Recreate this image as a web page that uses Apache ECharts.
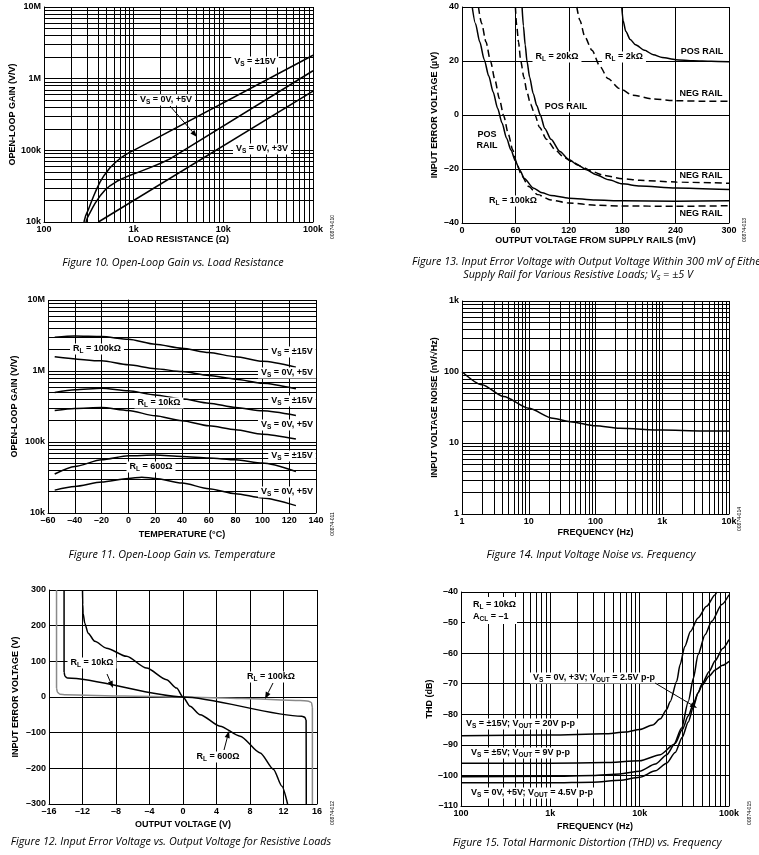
<!DOCTYPE html>
<html><head><meta charset="utf-8">
<script src="https://cdn.jsdelivr.net/npm/echarts@6/dist/echarts.min.js"></script>
<style>html,body{margin:0;padding:0;background:#fff}#c{width:759px;height:855px}</style>
</head><body><div id="c"></div>
<script>
// ---------------- DATA ----------------
// Figure 10: open-loop gain vs load resistance  [ohm, V/V]
const fig10XTicks = ['100','1k','10k','100k'];
const fig10YTicks = ['10k','100k','1M','10M'];
const fig10Vs15 = [[279,1e4],[290,12000],[300,13300],[312,14800],[330,17800],[355,22500],[385,28500],[421,36000],[470,45000],[544,57000],[620,67000],[705,77000],[800,86000],[900,93500],[1000,100000],[100000,2120000]];
const fig10Vs5  = [[294,1e4],[305,11500],[326,13500],[350,16000],[371,18200],[421,23000],[480,28000],[544,32000],[650,37000],[767,41000],[900,44500],[1080,48500],[1500,57000],[2000,66000],[2540,76000],[100000,1290000]];
const fig10Vs3  = [[404,1e4],[100000,670000]];

// Figure 13: input error voltage vs output voltage from rails [mV, uV]
const fig13XTicks = ['0','60','120','180','240','300'];
const fig13YTicks = ['–40','–20','0','20','40'];
const fig13R100kPos = [[11.5,40],[15,34],[20,27],[25,20.5],[30,14.5],[35,8.5],[40,2.5],[45,-3],[50,-8.5],[55,-13],[60,-17],[65,-20.5],[70,-23.5],[80,-27],[90,-28.8],[100,-29.8],[120,-30.8],[150,-31.5],[180,-31.8],[240,-31.9],[300,-31.8]];
const fig13R100kNeg = [[18.5,40],[22,34],[27,27],[32,20],[37,13],[42,6],[47,-0.5],[52,-7],[57,-13],[62,-18.5],[67,-22.5],[75,-26.5],[85,-29.5],[100,-31.5],[120,-32.6],[150,-33.4],[180,-33.7],[240,-33.8],[300,-33.6]];
const fig13R20kPos = [[67.5,40],[69,33],[71,26],[73,20],[76,14],[80,8],[84,3.5],[88,0],[93,-5],[100,-9],[110,-13.5],[120,-16.5],[130,-18.5],[140,-20.3],[150,-22],[165,-24],[180,-25.5],[200,-26.3],[240,-27],[300,-27.6]];
const fig13R20kNeg = [[60,40],[61.5,33],[63.5,27],[66,20],[69.5,14],[73,8.5],[77,4],[82,0],[87,-4.5],[95,-9],[105,-13],[115,-15.8],[125,-17.6],[135,-19.2],[145,-20.8],[160,-22.4],[180,-23.6],[200,-24.2],[240,-24.8],[300,-25.3]];
const fig13R2kPos = [[179.5,40],[181,35],[184,31],[189,28],[195,26],[205,24],[215,22.3],[225,21.3],[240,20.5],[260,20.1],[280,19.9],[300,19.7]];
const fig13R2kNeg = [[129,40],[132.5,35],[138,29],[146,24],[155,18],[164,13.5],[177,9.8],[192,7.3],[215,5.9],[240,5.3],[270,5.1],[300,5.1]];

// Figure 11: open-loop gain vs temperature [degC, V/V]
const fig11XTicks = ['–60','–40','–20','0','20','40','60','80','100','120','140'];
const fig11YTicks = ['10k','100k','1M','10M'];
const fig11R100kVs15 = [[-55,2.98e6],[-40,3.1e6],[-20,3.05e6],[0,2.8e6],[20,2.38e6],[40,2.09e6],[60,1.82e6],[80,1.59e6],[100,1.37e6],[125,1.13e6]];
const fig11R100kVs5  = [[-55,1.59e6],[-20,1.39e6],[0,1.22e6],[20,1.08e6],[40,0.98e6],[60,863e3],[80,767e3],[100,674e3],[125,561e3]];
const fig11R10kVs15  = [[-55,498e3],[-40,543e3],[-20,573e3],[0,525e3],[20,461e3],[40,405e3],[60,352e3],[80,306e3],[100,275e3],[125,236e3]];
const fig11R10kVs5   = [[-55,278e3],[-40,297e3],[-20,306e3],[0,278e3],[20,234e3],[40,199e3],[60,169e3],[80,149e3],[100,129e3],[125,110e3]];
const fig11R600Vs15  = [[-55,35.4e3],[-40,45.3e3],[-20,56.2e3],[0,64e3],[20,65.4e3],[40,62.7e3],[60,59.4e3],[80,56.2e3],[100,50.5e3],[125,38.5e3]];
const fig11R600Vs5   = [[-55,21e3],[-40,23.7e3],[-20,27.3e3],[0,30.7e3],[10,31.8e3],[20,30.7e3],[40,26.4e3],[60,22e3],[80,18.7e3],[100,16.3e3],[125,12.7e3]];

// Figure 14: input voltage noise vs frequency [Hz, nV/rtHz]
const fig14XTicks = ['1','10','100','1k','10k'];
const fig14YTicks = ['1','10','100','1k'];
const fig14Noise = [[1,101],[2,66],[4.2,45],[10,30.8],[23,22.3],[42,20],[100,17.5],[230,16.1],[1000,15.2],[4000,14.8],[10000,14.8]];

// Figure 12: input error voltage vs output voltage [V, V]
const fig12XTicks = ['–16','–12','–8','–4','0','4','8','12','16'];
const fig12YTicks = ['–300','–200','–100','0','100','200','300'];
const fig12R100k = [[-15.1,300],[-15.1,25],[-15.0,13],[-14.7,8],[-14,6],[-7,3],[0,0],[7,-4],[14,-9.5],[15.0,-12],[15.35,-16],[15.45,-30],[15.45,-300]];
const fig12R10k  = [[-14.2,300],[-14.2,70],[-14.1,58],[-13.8,53],[0,0],[14.2,-54],[14.55,-57],[14.7,-65],[14.72,-300]];
const fig12R600  = [[-12.0,300],[-11.97,260],[-11.93,235],[-11.73,207],[-11.33,179],[-10.53,156],[-9.14,137],[-6.74,114],[-4.35,81],[-1.96,48.5],[-0.76,25],[0,0],[0.84,-26],[2.04,-49.5],[4.43,-82],[6.82,-110],[9.22,-157],[10.81,-203],[11.81,-250],[12.49,-300]];

// Figure 15: THD vs frequency [Hz, dB]
const fig15XTicks = ['100','1k','10k','100k'];
const fig15YTicks = ['–110','–100','–90','–80','–70','–60','–50','–40'];
const fig15Vs15 = [[100,-87],[1000,-86.8],[4000,-86.4],[7000,-85.8],[10000,-85],[14000,-83.5],[17000,-81.5],[20000,-78.5],[22000,-75.8],[26000,-69.2],[28300,-63.8],[32000,-57.8],[37000,-52.9],[45000,-48.5],[56000,-44.7],[70000,-40.9],[73000,-40]];
const fig15Vs5  = [[100,-96],[1000,-96],[4000,-95.8],[10000,-95.2],[17000,-93.2],[24000,-90],[29500,-84.5],[35000,-75.8],[40000,-68.1],[45000,-60.5],[54000,-54],[64000,-49.6],[83000,-44.1],[100000,-40.9]];
const fig15Vs3V = [[100,-100.4],[1000,-100.3],[3000,-100],[6000,-99.5],[10000,-98.6],[15000,-96.3],[20000,-93.3],[25000,-89.5],[30000,-85],[35000,-80.5],[40000,-76.5],[45000,-73],[50000,-70.5],[60000,-67.5],[70000,-65.5],[85000,-64],[100000,-62.7]];
const fig15Vs5V = [[100,-102.4],[1000,-102.4],[3000,-102.2],[6000,-101.6],[10000,-100.6],[15000,-98.5],[20000,-96],[25000,-92.5],[30000,-87.5],[35000,-82.5],[40000,-77.5],[45000,-73],[50000,-70],[60000,-66],[70000,-62.5],[85000,-58.5],[100000,-55.6]];

// ---------------- HELPERS ----------------
const FONT = '"Liberation Sans", Arial, sans-serif';
const CAP_FONT = '"Open Sans", "Liberation Sans", sans-serif';
const minorMult = [2,3,4,5,6,7,8,9];
function minors(lo, hi){ const r=[]; for(let d=lo; d<hi; d*=10) minorMult.forEach(m=>r.push(d*m)); return r; }

const axLabel = {color:'#000', fontSize:9, fontWeight:'bold', fontFamily:FONT, margin:3, showMinLabel:true, showMaxLabel:true};
const axName = {color:'#000', fontSize:9, fontWeight:'bold', fontFamily:FONT};
const split = {show:true, lineStyle:{color:'#000', width:1}};
function logAxis(gi, min, max, ticks, name, gap, isY){
  const lo = Math.round(Math.log10(min));
  return {type:'log', logBase:10, gridIndex:gi, min, max,
    name, nameLocation:'middle', nameGap:gap, nameTextStyle:axName, nameRotate:isY?90:0,
    axisLine:{show:true, lineStyle:{color:'#000', width:1}}, axisTick:{show:false},
    axisLabel:Object.assign({}, axLabel, {formatter:v=>ticks[Math.round(Math.log10(v))-lo]}),
    splitLine:split};
}
function valAxis(gi, min, max, interval, ticks, name, gap, isY){
  return {type:'value', gridIndex:gi, min, max, interval,
    name, nameLocation:'middle', nameGap:gap, nameTextStyle:axName, nameRotate:isY?90:0,
    axisLine:{show:true, onZero:false, lineStyle:{color:'#000', width:1}}, axisTick:{show:false},
    axisLabel:Object.assign({}, axLabel, {formatter:v=>ticks[Math.round((v-min)/interval)]}),
    splitLine:split};
}
function curve(gi, data, opt){
  opt = opt || {};
  return {type:'line', xAxisIndex:gi, yAxisIndex:gi, data, symbol:'none', showSymbol:false,
    smooth:opt.smooth===undefined?0.25:opt.smooth, smoothMonotone:'x', z:5, silent:true, animation:false,
    lineStyle:{color:opt.color||'#000', width:opt.width||1.5, type:opt.dash||'solid'}};
}
function gridLines(gi, xs, ys){
  return {type:'line', xAxisIndex:gi, yAxisIndex:gi, data:[], z:1, silent:true, animation:false,
    markLine:{silent:true, symbol:['none','none'], label:{show:false}, animation:false,
      lineStyle:{color:'#000', width:1, type:'solid'}, emphasis:{disabled:true},
      data:[...xs.map(v=>({xAxis:v})), ...ys.map(v=>({yAxis:v}))]}};
}
function rt(s, cls){
  return s.split(/(_\{[^}]*\})/).filter(Boolean).map(p=>p.startsWith('_{')?'{s|'+p.slice(2,-1)+'}':'{'+cls+'|'+p+'}').join('');
}
const richBold = {
  n:{fontSize:9, fontWeight:'bold', fontFamily:FONT, lineHeight:11, fill:'#000', color:'#000'},
  s:{fontSize:6.5, fontWeight:'bold', fontFamily:FONT, lineHeight:5, verticalAlign:'bottom', fill:'#000', color:'#000'}
};
function lbl(s, x, y, o){
  o = o || {};
  return {type:'text', x, y, z:100, silent:true, style:{text:rt(s,'n'), align:o.align||'center', verticalAlign:'middle',
    backgroundColor:o.bg===false?'transparent':'#fff', padding:o.pad||[0,3,0,3], rich:richBold}};
}
const richCap = {
  c:{fontSize:10.8, fontStyle:'italic', fontFamily:CAP_FONT, lineHeight:13, fill:'#000', color:'#000'},
  s:{fontSize:7.5, fontStyle:'italic', fontFamily:CAP_FONT, lineHeight:9, verticalAlign:'bottom', fill:'#000', color:'#000'}
};
function cap(s, x, y, align){
  return {type:'text', x, y, z:100, silent:true, style:{text:rt(s,'c'), align:align||'center', verticalAlign:'middle', rich:richCap}};
}
function code(s, x, y){
  return {type:'text', x, y, rotation:Math.PI/2, z:100, silent:true, style:{text:s, align:'center', verticalAlign:'middle', font:'5px '+FONT, fill:'#000'}};
}
function arrow(x1,y1,x2,y2){
  const a=Math.atan2(y2-y1,x2-x1), L=7, W=2.6;
  const bx=x2-L*Math.cos(a), by=y2-L*Math.sin(a);
  return [
    {type:'line', z:100, silent:true, shape:{x1,y1,x2:bx,y2:by}, style:{stroke:'#000', lineWidth:1}},
    {type:'polygon', z:100, silent:true, shape:{points:[[x2,y2],[bx+W*Math.sin(a),by-W*Math.cos(a)],[bx-W*Math.sin(a),by+W*Math.cos(a)]]}, style:{fill:'#000'}}
  ];
}

// ---------------- OPTION ----------------
const option = {
  backgroundColor:'#fff',
  animation:false,
  grid:[
    {left:44, top:7, width:269, height:215},
    {left:462, top:7, width:267, height:216},
    {left:48, top:300, width:268, height:213},
    {left:462, top:301, width:267, height:213},
    {left:49, top:590, width:268, height:214},
    {left:461, top:592, width:268, height:214}
  ],
  xAxis:[
    logAxis(0, 100, 1e5, fig10XTicks, 'LOAD RESISTANCE (Ω)', 13),
    valAxis(1, 0, 300, 60, fig13XTicks, 'OUTPUT VOLTAGE FROM SUPPLY RAILS (mV)', 13),
    valAxis(2, -60, 140, 20, fig11XTicks, 'TEMPERATURE (°C)', 17),
    logAxis(3, 1, 1e4, fig14XTicks, 'FREQUENCY (Hz)', 14),
    valAxis(4, -16, 16, 4, fig12XTicks, 'OUTPUT VOLTAGE (V)', 16),
    logAxis(5, 100, 1e5, fig15XTicks, 'FREQUENCY (Hz)', 16)
  ],
  yAxis:[
    logAxis(0, 1e4, 1e7, fig10YTicks, 'OPEN-LOOP GAIN (V/V)', 26, true),
    valAxis(1, -40, 40, 20, fig13YTicks, 'INPUT ERROR VOLTAGE (µV)', 23, true),
    logAxis(2, 1e4, 1e7, fig11YTicks, 'OPEN-LOOP GAIN (V/V)', 29, true),
    logAxis(3, 1, 1e3, fig14YTicks, 'INPUT VOLTAGE NOISE (nV/√Hz)', 23, true),
    valAxis(4, -300, 300, 100, fig12YTicks, 'INPUT ERROR VOLTAGE (V)', 29, true),
    valAxis(5, -110, -40, 10, fig15YTicks, 'THD (dB)', 24, true)
  ],
  series:[
    gridLines(0, minors(100,1e5), minors(1e4,1e7)),
    gridLines(2, [], minors(1e4,1e7)),
    gridLines(3, minors(1,1e4), minors(1,1e3)),
    gridLines(5, minors(100,1e5), []),
    curve(0, fig10Vs15, {smooth:false}), curve(0, fig10Vs5, {smooth:false}), curve(0, fig10Vs3, {smooth:false}),
    curve(1, fig13R100kPos), curve(1, fig13R100kNeg, {dash:[7,4]}),
    curve(1, fig13R20kPos), curve(1, fig13R20kNeg, {dash:[7,4]}),
    curve(1, fig13R2kPos), curve(1, fig13R2kNeg, {dash:[7,4]}),
    curve(2, fig11R100kVs15), curve(2, fig11R100kVs5), curve(2, fig11R10kVs15),
    curve(2, fig11R10kVs5), curve(2, fig11R600Vs15), curve(2, fig11R600Vs5),
    curve(3, fig14Noise),
    curve(4, fig12R100k, {color:'#8a8a8a'}), curve(4, fig12R10k), curve(4, fig12R600),
    curve(5, fig15Vs15), curve(5, fig15Vs5), curve(5, fig15Vs3V), curve(5, fig15Vs5V)
  ],
  graphic:[
    // Fig 10
    lbl('V_{S} = ±15V', 255, 62), lbl('V_{S} = 0V, +5V', 166, 100), lbl('V_{S} = 0V, +3V', 262, 149),
    ...arrow(170,106,197,137),
    // Fig 13
    lbl('R_{L} = 20kΩ', 557, 57), lbl('R_{L} = 2kΩ', 624, 57), lbl('POS RAIL', 702, 52), lbl('NEG RAIL', 701, 94),
    lbl('POS RAIL', 566, 107), lbl('POS', 487, 135, {bg:false}), lbl('RAIL', 487, 146, {bg:false}),
    lbl('NEG RAIL', 701, 176), lbl('R_{L} = 100kΩ', 513, 201), lbl('NEG RAIL', 701, 214),
    // Fig 11
    lbl('R_{L} = 100kΩ', 97, 349), lbl('V_{S} = ±15V', 292, 352), lbl('V_{S} = 0V, +5V', 287, 373),
    lbl('R_{L} = 10kΩ', 159, 403), lbl('V_{S} = ±15V', 292, 401), lbl('V_{S} = 0V, +5V', 287, 425),
    lbl('V_{S} = ±15V', 292, 456), lbl('R_{L} = 600Ω', 151, 467), lbl('V_{S} = 0V, +5V', 287, 492),
    // Fig 12
    lbl('R_{L} = 10kΩ', 92, 663), ...arrow(107,674,113,688),
    lbl('R_{L} = 100kΩ', 271, 677), ...arrow(273,683,265,699),
    lbl('R_{L} = 600Ω', 218, 757), ...arrow(224,750,229,731),
    // Fig 15
    {type:'rect', z:99, silent:true, shape:{x:465, y:597, width:52, height:27}, style:{fill:'#fff'}},
    lbl('R_{L} = 10kΩ', 470, 605, {align:'left', bg:false}), lbl('A_{CL} = –1', 470, 617, {align:'left', bg:false}),
    lbl('V_{S} = 0V, +3V; V_{OUT} = 2.5V p-p', 594, 678), ...arrow(655,683,697,708),
    lbl('V_{S} = ±15V; V_{OUT} = 20V p-p', 463, 724, {align:'left'}),
    lbl('V_{S} = ±5V; V_{OUT} = 9V p-p', 468, 753, {align:'left'}),
    lbl('V_{S} = 0V, +5V; V_{OUT} = 4.5V p-p', 468, 793, {align:'left'}),
    // captions
    cap('Figure 10. Open-Loop Gain vs. Load Resistance', 173, 263),
    cap('Figure 13. Input Error Voltage with Output Voltage Within 300 mV of Either', 412, 262, 'left'),
    cap('Supply Rail for Various Resistive Loads; V_{S} = ±5 V', 578, 275),
    cap('Figure 11. Open-Loop Gain vs. Temperature', 172, 555),
    cap('Figure 14. Input Voltage Noise vs. Frequency', 591, 555),
    cap('Figure 12. Input Error Voltage vs. Output Voltage for Resistive Loads', 171, 842),
    cap('Figure 15. Total Harmonic Distortion (THD) vs. Frequency', 587, 843),
    code('00874-010', 333, 227), code('00874-013', 745, 230), code('00874-011', 333, 524),
    code('00874-014', 740, 519), code('00874-012', 333, 813), code('00874-015', 750, 813)
  ]
};
const chart = echarts.init(document.getElementById('c'), null, {renderer:'canvas'});
chart.setOption(option);
</script>
</body></html>
